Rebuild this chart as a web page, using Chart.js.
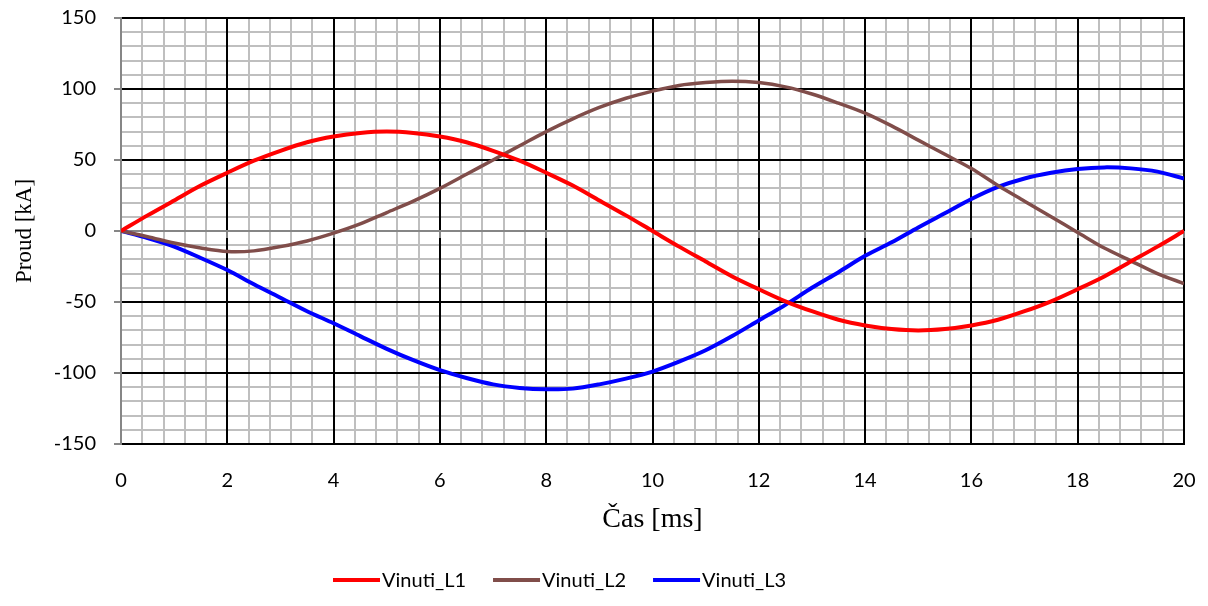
<!DOCTYPE html>
<html>
<head>
<meta charset="utf-8">
<script src="https://cdn.jsdelivr.net/npm/chart.js@4.4.1/dist/chart.umd.min.js"></script>
<style>
  html, body { margin: 0; padding: 0; background: #ffffff; }
  #wrap { width: 1208px; height: 606px; }
</style>
</head>
<body>
<div id="wrap"><canvas id="proudChart" width="1208" height="606"></canvas></div>
<script>
// cas [ms], krok 0.5 ms
const casMs = [0, 0.5, 1, 1.5, 2, 2.5, 3, 3.5, 4, 4.5, 5, 5.5, 6, 6.5, 7, 7.5, 8, 8.5, 9, 9.5,
  10, 10.5, 11, 11.5, 12, 12.5, 13, 13.5, 14, 14.5, 15, 15.5, 16, 16.5, 17, 17.5, 18, 18.5, 19, 19.5, 20];

// proudy [kA]
const vinutiL1 = [0, 11, 21.5, 32, 41, 49.5, 56.5, 62.5, 66.5, 69, 70, 69, 66.5, 62.5, 56.5, 49.5, 41, 32, 21.5, 11,
  0, -11, -21.5, -32, -41, -49.5, -56.5, -62.5, -66.5, -69, -70, -69, -66.5, -62.5, -56.5, -49.5, -41, -32, -21.5, -11, 0];
const vinutiL2 = [0, -4, -8.5, -12, -14.5, -14, -11, -7, -1.5, 5, 13, 21, 30, 40, 50, 60, 70, 79, 87, 93.5,
  98.5, 102.5, 104.5, 105.5, 104.5, 101.5, 96.5, 90, 83, 74, 64, 54, 44, 32, 21, 10, -1, -12, -21, -30, -37];
const vinutiL3 = [0, -5, -11, -19, -27.5, -37.5, -47, -56.5, -65, -74, -83, -91, -98, -103.5, -108, -110.5, -111.5, -111, -108, -104,
  -99, -92, -84, -74, -63, -52, -40, -29, -17.5, -8, 2.5, 12.5, 22.5, 31, 37, 41, 43.7, 44.8, 44.1, 41.8, 37];

const seriesNames = ['Vinuti_L1', 'Vinuti_L2', 'Vinuti_L3'];
const seriesColors = ['#FF0000', '#804D4A', '#0000FF'];

// osy
const xMin = 0, xMax = 20, xMajor = 2, xMinor = 0.4;
const yMin = -150, yMax = 150, yMajor = 50, yMinor = 10;

const isMajor = (v, step) => Math.abs(v / step - Math.round(v / step)) < 1e-6;

function points(values) {
  return casMs.map((t, i) => ({ x: t, y: values[i] }));
}

// hlavni mrizka (cerna) pres vedlejsi, osy sede
const majorGrid = {
  id: 'majorGrid',
  beforeDatasetsDraw(chart) {
    const { ctx, chartArea: a } = chart;
    const x = chart.scales.x, y = chart.scales.y;
    ctx.save();
    ctx.lineWidth = 2;
    ctx.strokeStyle = '#000000';
    ctx.beginPath();
    for (let v = xMin + xMajor; v <= xMax + 1e-9; v += xMajor) {
      const px = Math.round(x.getPixelForValue(v));
      ctx.moveTo(px, a.top - 1);
      ctx.lineTo(px, a.bottom + 1);
    }
    for (let v = yMin; v <= yMax + 1e-9; v += yMajor) {
      if (Math.abs(v) < 1e-9) continue;
      const py = Math.round(y.getPixelForValue(v));
      ctx.moveTo(a.left, py);
      ctx.lineTo(a.right + 1, py);
    }
    ctx.stroke();

    const y0 = Math.round(y.getPixelForValue(0));
    ctx.strokeStyle = '#868686';
    ctx.beginPath();
    ctx.moveTo(a.left, y0);
    ctx.lineTo(a.right, y0);
    const x0 = Math.round(x.getPixelForValue(xMin));
    ctx.moveTo(x0, a.top - 1);
    ctx.lineTo(x0, a.bottom + 1);
    for (let v = xMin + xMajor; v <= xMax + 1e-9; v += xMajor) {
      const px = Math.round(x.getPixelForValue(v));
      ctx.moveTo(px, y0);
      ctx.lineTo(px, y0 + 7);
    }
    ctx.stroke();
    ctx.restore();
  }
};

// legenda kreslena rucne (carka + text)
const lineLegend = {
  id: 'lineLegend',
  afterDraw(chart) {
    const ctx = chart.ctx;
    let cx = 333;
    const cy = 580;
    ctx.save();
    ctx.font = '20px Lato, "Liberation Sans", sans-serif';
    ctx.textBaseline = 'middle';
    ctx.textAlign = 'left';
    chart.data.datasets.forEach(ds => {
      ctx.strokeStyle = ds.borderColor;
      ctx.lineWidth = 4;
      ctx.beginPath();
      ctx.moveTo(cx, cy);
      ctx.lineTo(cx + 47, cy);
      ctx.stroke();
      ctx.fillStyle = '#000000';
      ctx.fillText(ds.label, cx + 49, cy + 1);
      cx += 49 + ctx.measureText(ds.label).width + 27;
    });
    ctx.restore();
  }
};

const tickFont = { family: 'Lato, "Liberation Sans", sans-serif', size: 20 };
const serif = '"Liberation Serif", "Times New Roman", serif';

new Chart(document.getElementById('proudChart').getContext('2d'), {
  type: 'line',
  data: {
    datasets: [vinutiL1, vinutiL2, vinutiL3].map((vals, i) => ({
      label: seriesNames[i],
      data: points(vals),
      borderColor: seriesColors[i],
      backgroundColor: seriesColors[i],
      borderWidth: i === 1 ? 3.5 : 4,
      pointRadius: 0,
      tension: 0.3,
      fill: false
    }))
  },
  options: {
    responsive: false,
    animation: false,
    devicePixelRatio: 1,
    layout: { padding: { top: 18, right: 24, bottom: 62, left: 0 } },
    plugins: {
      legend: { display: false },
      tooltip: { enabled: false }
    },
    scales: {
      x: {
        type: 'linear',
        min: xMin,
        max: xMax,
        afterFit(scale) {
          scale.height = 100;
          scale.paddingLeft = 0;
          scale.paddingRight = 0;
        },
        border: { display: false },
        grid: {
          drawTicks: false,
          lineWidth: 2,
          color: '#BFBFBF'
        },
        ticks: {
          stepSize: xMinor,
          autoSkip: false,
          maxRotation: 0,
          padding: 25,
          color: '#000000',
          font: tickFont,
          callback(v) { return isMajor(v, xMajor) ? String(Math.round(v)) : ''; }
        },
        title: {
          display: true,
          text: 'Čas [ms]',
          color: '#000000',
          font: { family: serif, size: 28 },
          padding: { top: 0, bottom: 8 }
        }
      },
      y: {
        min: yMin,
        max: yMax,
        afterFit(scale) {
          scale.width = 121;
          scale.paddingTop = 0;
          scale.paddingBottom = 0;
        },
        border: { display: false },
        grid: {
          lineWidth: 2,
          tickLength: 7,
          color: '#BFBFBF',
          tickColor(ctx) {
            const v = ctx.tick ? ctx.tick.value : 0;
            return isMajor(v, yMajor) ? '#868686' : 'rgba(0,0,0,0)';
          }
        },
        ticks: {
          stepSize: yMinor,
          autoSkip: false,
          padding: 18,
          color: '#000000',
          font: tickFont,
          callback(v) { return isMajor(v, yMajor) ? String(Math.round(v)) : ''; }
        },
        title: {
          display: true,
          text: 'Proud [kA]',
          color: '#000000',
          font: { family: serif, size: 23 },
          padding: { top: 11, bottom: 0 }
        }
      }
    }
  },
  plugins: [majorGrid, lineLegend]
});
</script>
</body>
</html>
